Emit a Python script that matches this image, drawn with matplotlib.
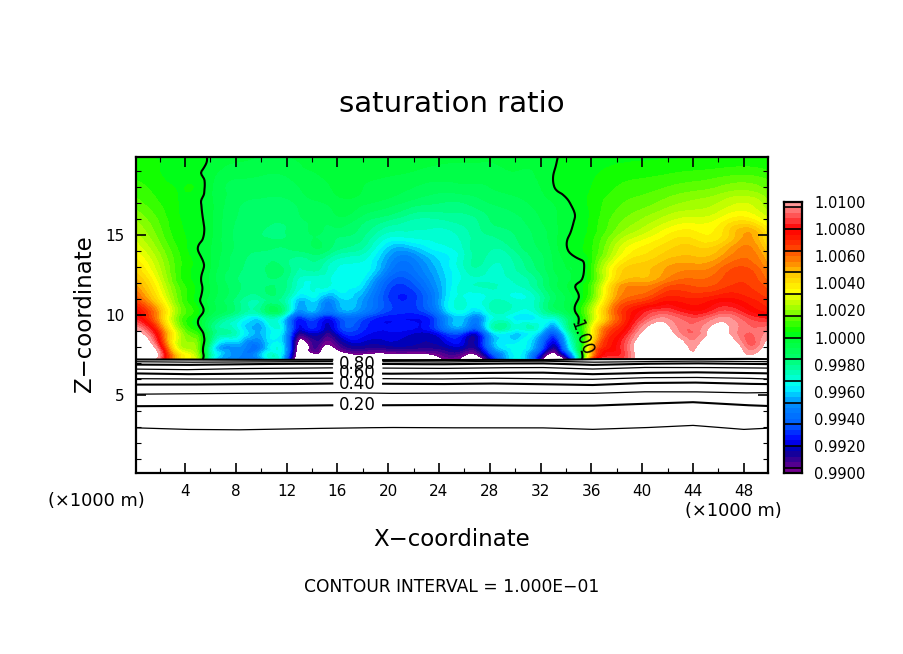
import matplotlib

matplotlib.use("Agg")
import matplotlib.pyplot as plt
import matplotlib.tri as mtri
import numpy as np
from matplotlib.colors import LinearSegmentedColormap

FIG_W, FIG_H = 904, 654

# x stations (km) and heights (km) of the saturation ratio field
x_km = [0, 2, 4, 5, 6, 8, 10, 12, 13, 14, 15, 16, 18, 20, 22, 24, 26, 27, 28, 30, 32, 33, 34, 35, 36, 38, 40, 42, 44, 46, 48, 50]
z_km = [20, 19, 18, 17, 16, 15, 14, 13, 12, 11, 10, 9, 8, 7.2]

# (ratio - 1) in units of 1e-4, one list per x station, top to bottom
s_x00 = [4, 6, 10, 14, 20, 26, 33, 42, 52, 66, 82, 105, 130, 130]
s_x02 = [3, 4, 6, 8, 11, 14, 19, 24, 30, 38, 50, 66, 85, 90]
s_x04 = [4, 1, 4, 3, 3, 4, 5, 6, 7, 9, 11, 15, 22, 30]
s_x05 = [2.3, 0.5, 3, 0.75, 1.3, 2, 0.2, 2.7, 2, 1.5, 3.4, 6, 16, 23]
s_x06 = [-1, -2, -3, -3, -3, -3, -4, -4, -5, -6, -8, -14, -25, -35]
s_x08 = [-3, -6, -9, -11, -12, -13, -13, -14, -15, -17, -22, -28, -48, -55]
s_x10 = [-4, -7, -10, -13, -15, -16, -16, -17, -18, -22, -28, -44, -52, -55]
s_x12 = [-4, -7, -10, -13, -15, -16, -17, -18, -20, -26, -36, -48, -50, -60]
s_x13 = [-3, -5, -8, -11, -13, -14, -16, -24, -30, -42, -62, -82, -110, -120]
s_x14 = [-3, -4, -6, -9, -11, -12, -14, -22, -32, -38, -55, -76, -94, -125]
s_x15 = [-2, -3, -5, -8, -11, -13, -15, -26, -30, -48, -66, -84, -102, -125]
s_x16 = [-1, -2, -3, -6, -9, -15, -21, -32, -34, -44, -60, -76, -96, -125]
s_x18 = [-1, -2, -4, -7, -14, -19, -26, -33, -38, -48, -60, -72, -86, -120]
s_x20 = [-1, -3, -6, -10, -19, -30, -44, -52, -64, -68, -72, -76, -86, -125]
s_x22 = [-2, -4, -8, -14, -24, -30, -46, -56, -64, -70, -74, -78, -86, -125]
s_x24 = [-3, -5, -10, -16, -24, -30, -36, -42, -46, -48, -58, -70, -86, -102]
s_x26 = [-3, -5, -9, -16, -22, -26, -28, -28, -30, -32, -40, -62, -84, -104]
s_x27 = [-3, -5, -9, -14, -20, -22, -22, -24, -28, -34, -48, -70, -84, -115]
s_x28 = [-3, -5, -8, -12, -16, -20, -24, -28, -28, -30, -34, -40, -55, -85]
s_x30 = [-3, -4, -6, -10, -13, -16, -20, -24, -28, -32, -36, -36, -34, -34]
s_x32 = [-1, -3, -4, -6, -8, -10, -12, -14, -18, -24, -30, -40, -60, -90]
s_x33 = [-1, -0.2, -0.3, -4, -5, -6, -7, -8, -10, -14, -24, -58, -86, -120]
s_x34 = [2, 1.5, 2, -1, -2, -1, -1, -4, -5, -8, -14, -30, -50, -100]
s_x35 = [2, 2, 3, 2, 1, 2, 3, -3, 0.3, 0.3, 2, -2, -10, -20]
s_x36 = [2, 3, 4, 5, 5, 6, 7, 8, 10, 14, 22, 32, 45, 65]
s_x38 = [3, 5, 8, 11, 14, 19, 27, 38, 46, 54, 62, 72, 80, 88]
s_x40 = [3, 6, 10, 14, 20, 28, 38, 46, 52, 64, 84, 100, 115, 115]
s_x42 = [3, 7, 12, 18, 26, 36, 44, 52, 60, 74, 92, 104, 125, 125]
s_x44 = [3, 8, 14, 21, 29, 38, 46, 54, 62, 72, 84, 92, 99, 115]
s_x46 = [3, 9, 16, 24, 32, 38, 48, 58, 64, 76, 92, 104, 120, 120]
s_x48 = [3, 10, 18, 28, 38, 52, 58, 64, 68, 74, 86, 93, 97, 112]
s_x50 = [3, 8, 14, 20, 28, 36, 44, 52, 60, 68, 78, 96, 110, 115]

s_columns = [s_x00, s_x02, s_x04, s_x05, s_x06, s_x08, s_x10, s_x12, s_x13, s_x14, s_x15,
             s_x16, s_x18, s_x20, s_x22, s_x24, s_x26, s_x27, s_x28, s_x30, s_x32, s_x33,
             s_x34, s_x35, s_x36, s_x38, s_x40, s_x42, s_x44, s_x46, s_x48, s_x50]

# black contour heights (km) in the lower layer, one list per contour level
line_x = [0, 4, 8, 12, 16, 20, 24, 28, 32, 36, 40, 44, 48, 50]
line_010 = [2.95, 2.85, 2.82, 2.88, 2.93, 2.97, 2.95, 2.95, 2.95, 2.85, 2.95, 3.1, 2.85, 2.93]
line_020 = [4.3, 4.32, 4.33, 4.33, 4.36, 4.36, 4.38, 4.35, 4.33, 4.33, 4.45, 4.55, 4.37, 4.31]
line_030 = [5.05, 5.08, 5.1, 5.12, 5.15, 5.1, 5.12, 5.13, 5.1, 5.1, 5.2, 5.2, 5.13, 5.15]
line_040 = [5.65, 5.65, 5.68, 5.68, 5.72, 5.7, 5.68, 5.72, 5.68, 5.62, 5.75, 5.78, 5.7, 5.68]
line_050 = [6.02, 6.0, 6.0, 6.04, 6.05, 6.02, 6.0, 6.05, 6.02, 5.98, 6.08, 6.1, 6.05, 6.0]
line_060 = [6.35, 6.3, 6.33, 6.35, 6.38, 6.33, 6.35, 6.38, 6.4, 6.3, 6.38, 6.42, 6.38, 6.35]
line_070 = [6.62, 6.58, 6.65, 6.67, 6.7, 6.68, 6.66, 6.7, 6.72, 6.62, 6.72, 6.72, 6.7, 6.68]
line_080 = [6.9, 6.88, 6.92, 6.95, 6.95, 6.94, 6.92, 6.96, 6.98, 6.88, 6.95, 6.98, 6.95, 6.93]
line_090 = [7.08, 7.05, 7.06, 7.08, 7.1, 7.08, 7.06, 7.1, 7.12, 7.05, 7.08, 7.12, 7.1, 7.08]
line_100 = [7.22, 7.22, 7.2, 7.2, 7.2, 7.18, 7.18, 7.2, 7.18, 7.24, 7.24, 7.24, 7.26, 7.24]
line_levels = [line_010, line_020, line_030, line_040, line_050, line_060, line_070, line_080, line_090, line_100]

label_x = 17.6
label_gap = (15.7, 19.6)
label_texts = ["0.20", "0.40", "0.60", "0.80"]

# colour scale: 50 bands of 0.0004, black separators every 4 bands
band_start = 0.99
band_stop = 1.01
band_count = 50
separator_start = 0.9904
separator_step = 0.0016
anchor_values = [0.9900, 0.9908, 0.9916, 0.9924, 0.9936, 0.9952, 0.9964, 0.9970, 0.9984, 1.0000, 1.0004,
                 1.0016, 1.0030, 1.0034, 1.0048, 1.0064, 1.0072, 1.0080, 1.0096, 1.0100]
anchor_colors = ["#800090", "#400090", "#0000a0", "#0000ff", "#0060ff", "#0090ff", "#00ffff", "#00ffd0", "#00ff70", "#00ff30", "#00ff00",
                 "#70ff00", "#e0ff00", "#ffff00", "#ffc000", "#ff5000", "#ff2000", "#ff0000", "#ff8080", "#ffa8a8"]
cbar_ticks = [0.990, 0.992, 0.994, 0.996, 0.998, 1.000, 1.002, 1.004, 1.006, 1.008, 1.010]

x_major = [4, 8, 12, 16, 20, 24, 28, 32, 36, 40, 44, 48]
y_major = [5, 10, 15]


def px_box(left, top, right, bottom):
    """Pixel box of the reference -> figure fractions."""
    return [left / FIG_W, 1 - bottom / FIG_H, (right - left) / FIG_W, (bottom - top) / FIG_H]


def px_text(fig, x, y, text, **kwargs):
    fig.text(x / FIG_W, 1 - y / FIG_H, text, ha="center", va="center", color="black", **kwargs)


fig = plt.figure(figsize=(FIG_W / 100, FIG_H / 100), dpi=100)
ax = fig.add_axes(px_box(136, 157, 768, 473))

# field, refined so that the bands come out smooth
ratio = 1 + np.array(s_columns).T[::-1] * 1e-4
x_grid, z_grid = np.meshgrid(x_km, z_km[::-1])
triangles = mtri.Triangulation(x_grid.ravel(), z_grid.ravel())
refiner = mtri.UniformTriRefiner(triangles)
fine_tri, fine_ratio = refiner.refine_field(ratio.ravel(), subdiv=3)

levels = np.linspace(band_start, band_stop, band_count + 1)
anchors = [(v - band_start) / (band_stop - band_start) for v in anchor_values]
cmap = LinearSegmentedColormap.from_list("sat", list(zip(anchors, anchor_colors)), N=256)
band_mid = (levels[:-1] + levels[1:]) / 2
band_colors = cmap((band_mid - band_start) / (band_stop - band_start))
ax.tricontourf(fine_tri, fine_ratio, levels=levels, colors=band_colors)

# saturation contour with its own label
cs = ax.tricontour(fine_tri, fine_ratio, levels=[1.0], colors="black", linewidths=1.5)
labels = ax.clabel(cs, manual=[(35.4, 8.6)], fmt="%.2f", fontsize=12, inline=True, inline_spacing=2)
for label in labels:
    label.set_rotation(-70)

# lower layer contours, even levels drawn heavier, with a gap for the labels
x_fine = np.linspace(0, 50, 501)
for i, heights in enumerate(line_levels):
    z_line = np.interp(x_fine, line_x, heights)
    if i not in (0, 2):
        z_line[(x_fine > label_gap[0]) & (x_fine < label_gap[1])] = np.nan
    ax.plot(x_fine, z_line, color="black", lw=1.5 if i % 2 == 1 else 0.9, zorder=3)

for i, text in enumerate(label_texts):
    level_heights = line_levels[2 * i + 1]
    ax.text(label_x, np.interp(label_x, line_x, level_heights), text, ha="center", va="center", fontsize=12, zorder=4)

ax.set_xlim(0.15, 49.9)
ax.set_ylim(0.125, 19.875)
ax.set_xticks(x_major)
ax.set_xticks(np.arange(2, 50, 4), minor=True)
ax.set_yticks(y_major)
ax.set_yticks(np.arange(1, 20, 1), minor=True)
ax.tick_params(which="major", direction="in", length=7, width=1.2, top=True, right=True, labelsize=11, pad=8)
ax.tick_params(which="minor", direction="in", length=3.5, width=0.8, top=True, right=True)
for spine in ax.spines.values():
    spine.set_linewidth(1.6)

# colour bar
cax = fig.add_axes(px_box(784, 202, 802, 473))
cax.pcolormesh([0, 1], levels, band_mid[:, None], cmap=cmap, vmin=band_start, vmax=band_stop)
separators = [separator_start + k * separator_step for k in range(13)]
cax.hlines(separators, 0, 1, color="black", lw=1.2)
cax.set_xlim(0, 1)
cax.set_ylim(band_start, band_stop)
cax.set_xticks([])
cax.yaxis.tick_right()
cax.set_yticks(cbar_ticks)
cax.set_yticklabels([f"{t:.4f}" for t in cbar_ticks])
cax.tick_params(axis="y", length=0, pad=9, labelsize=10.5)
for spine in cax.spines.values():
    spine.set_linewidth(1.6)

# text
px_text(fig, 452, 104, "saturation ratio", fontsize=21)
px_text(fig, 452, 539, "X\u2212coordinate", fontsize=16.5)
px_text(fig, 84, 314, "Z\u2212coordinate", fontsize=16.5, rotation=90)
px_text(fig, 452, 587, "CONTOUR INTERVAL = 1.000E\u221201", fontsize=12.3)
px_text(fig, 96, 501, "(\u00d71000 m)", fontsize=12.8)
px_text(fig, 733, 511, "(\u00d71000 m)", fontsize=12.8)

fig.savefig("out.png", dpi=100)
